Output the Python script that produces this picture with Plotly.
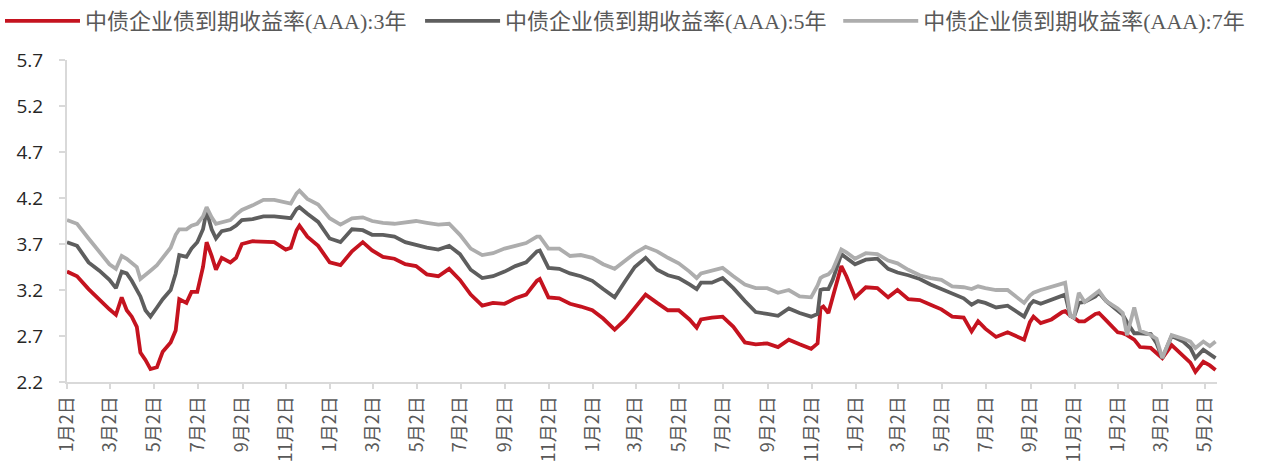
import plotly.graph_objects as go

dates = [
    "2020-01-02", "2020-01-16", "2020-02-01", "2020-02-16", "2020-03-01", "2020-03-10", "2020-03-18", "2020-03-25",
    "2020-04-01", "2020-04-08", "2020-04-13", "2020-04-20", "2020-04-27", "2020-05-06", "2020-05-14", "2020-05-25",
    "2020-06-01", "2020-06-06", "2020-06-16", "2020-06-23", "2020-07-01", "2020-07-09", "2020-07-14", "2020-07-21",
    "2020-07-27", "2020-08-04", "2020-08-16", "2020-08-24", "2020-09-01", "2020-09-16", "2020-10-01", "2020-10-16",
    "2020-11-01", "2020-11-08", "2020-11-16", "2020-11-20", "2020-12-01", "2020-12-16", "2021-01-01", "2021-01-16",
    "2021-02-01", "2021-02-16", "2021-03-01", "2021-03-16", "2021-04-01", "2021-04-16", "2021-05-01", "2021-05-16",
    "2021-06-01", "2021-06-16", "2021-07-01", "2021-07-16", "2021-08-01", "2021-08-16", "2021-09-01", "2021-09-16",
    "2021-10-01", "2021-10-16", "2021-10-20", "2021-11-01", "2021-11-16", "2021-12-01", "2021-12-16", "2022-01-01",
    "2022-01-16", "2022-02-01", "2022-02-16", "2022-03-01", "2022-03-16", "2022-04-01", "2022-04-16", "2022-05-01",
    "2022-05-16", "2022-05-26", "2022-06-01", "2022-06-16", "2022-07-01", "2022-07-16", "2022-08-01", "2022-08-16",
    "2022-09-01", "2022-09-16", "2022-10-01", "2022-10-16", "2022-11-01", "2022-11-10", "2022-11-14", "2022-11-18",
    "2022-11-25", "2022-12-01", "2022-12-13", "2022-12-20", "2023-01-01", "2023-01-16", "2023-02-01", "2023-02-16",
    "2023-03-01", "2023-03-16", "2023-04-01", "2023-04-16", "2023-05-01", "2023-05-16", "2023-06-01", "2023-06-12",
    "2023-06-21", "2023-07-01", "2023-07-16", "2023-08-01", "2023-08-16", "2023-08-24", "2023-09-01", "2023-09-06",
    "2023-09-16", "2023-10-01", "2023-10-16", "2023-10-20", "2023-10-27", "2023-11-01", "2023-11-08", "2023-11-16",
    "2023-12-01", "2023-12-06", "2023-12-16", "2024-01-01", "2024-01-08", "2024-01-14", "2024-01-24", "2024-02-01",
    "2024-02-16", "2024-02-24", "2024-03-03", "2024-03-16", "2024-04-01", "2024-04-11", "2024-04-18", "2024-04-29",
    "2024-05-08", "2024-05-16",
]

yield_3y = [
    3.40, 3.35, 3.21, 3.09, 2.99, 2.93, 3.12, 2.98,
    2.91, 2.80, 2.52, 2.44, 2.34, 2.36, 2.53, 2.63,
    2.76, 3.10, 3.06, 3.18, 3.18, 3.45, 3.72, 3.57,
    3.42, 3.55, 3.50, 3.55, 3.70, 3.73, 3.72, 3.72,
    3.64, 3.66, 3.85, 3.90, 3.78, 3.68, 3.50, 3.47,
    3.62, 3.72, 3.63, 3.56, 3.54, 3.48, 3.46, 3.37,
    3.35, 3.43, 3.31, 3.15, 3.03, 3.06, 3.05, 3.11,
    3.15, 3.30, 3.32, 3.12, 3.11, 3.05, 3.02, 2.98,
    2.89, 2.77, 2.88, 3.00, 3.15, 3.06, 2.98, 2.98,
    2.88, 2.79, 2.88, 2.90, 2.91, 2.80, 2.63, 2.61,
    2.62, 2.58, 2.66, 2.61, 2.56, 2.62, 3.00, 3.02,
    2.95, 3.12, 3.46, 3.35, 3.12, 3.23, 3.22, 3.12,
    3.20, 3.10, 3.09, 3.04, 2.99, 2.91, 2.90, 2.75,
    2.86, 2.78, 2.69, 2.74, 2.69, 2.66, 2.85, 2.91,
    2.84, 2.88, 2.96, 2.97, 2.92, 2.90, 2.86, 2.86,
    2.94, 2.95, 2.87, 2.74, 2.73, 2.71, 2.66, 2.58,
    2.57, 2.52, 2.46, 2.60, 2.48, 2.41, 2.31, 2.42,
    2.38, 2.33,
]

yield_5y = [
    3.72, 3.68, 3.50, 3.41, 3.31, 3.22, 3.40, 3.38,
    3.30, 3.21, 3.13, 2.98, 2.91, 3.01, 3.10, 3.20,
    3.38, 3.58, 3.56, 3.65, 3.72, 3.86, 4.06, 3.86,
    3.76, 3.84, 3.86, 3.90, 3.96, 3.97, 4.00, 4.00,
    3.98, 3.98, 4.08, 4.10, 4.03, 3.94, 3.76, 3.72,
    3.86, 3.85, 3.80, 3.80, 3.78, 3.72, 3.69, 3.66,
    3.64, 3.68, 3.59, 3.42, 3.33, 3.35, 3.40, 3.46,
    3.50, 3.62, 3.63, 3.44, 3.43, 3.38, 3.35, 3.30,
    3.21, 3.12, 3.30, 3.45, 3.55, 3.42, 3.36, 3.33,
    3.26, 3.21, 3.28, 3.28, 3.33, 3.22, 3.08, 2.96,
    2.94, 2.92, 3.00, 2.95, 2.91, 2.94, 3.20, 3.21,
    3.21, 3.31, 3.59, 3.55, 3.48, 3.53, 3.54, 3.43,
    3.39, 3.36, 3.32, 3.26, 3.21, 3.16, 3.11, 3.04,
    3.08, 3.06, 3.01, 3.03, 2.95, 2.91, 3.04, 3.08,
    3.05, 3.09, 3.14, 3.15, 2.92, 2.90, 3.06, 3.07,
    3.13, 3.17, 3.08, 2.97, 2.93, 2.85, 2.73, 2.73,
    2.72, 2.62, 2.46, 2.70, 2.64, 2.57, 2.46, 2.55,
    2.50, 2.46,
]

yield_7y = [
    3.96, 3.92, 3.76, 3.62, 3.48, 3.43, 3.57, 3.54,
    3.50, 3.45, 3.32, 3.37, 3.41, 3.47, 3.55, 3.66,
    3.80, 3.86, 3.86, 3.90, 3.92, 4.00, 4.10, 3.99,
    3.92, 3.94, 3.96, 4.02, 4.07, 4.12, 4.18, 4.18,
    4.15, 4.14, 4.25, 4.28, 4.19, 4.13, 3.98, 3.91,
    3.98, 3.99, 3.95, 3.93, 3.92, 3.93, 3.95, 3.93,
    3.91, 3.92, 3.80, 3.65, 3.58, 3.60, 3.65, 3.68,
    3.71, 3.78, 3.78, 3.65, 3.65, 3.57, 3.58, 3.55,
    3.48, 3.43, 3.52, 3.60, 3.67, 3.62, 3.55, 3.49,
    3.40, 3.33, 3.38, 3.41, 3.44, 3.35, 3.26, 3.22,
    3.22, 3.17, 3.20, 3.13, 3.12, 3.25, 3.33, 3.35,
    3.37, 3.42, 3.64, 3.61, 3.54, 3.60, 3.59, 3.52,
    3.49, 3.42, 3.36, 3.33, 3.31, 3.24, 3.23, 3.21,
    3.24, 3.22, 3.20, 3.20, 3.10, 3.06, 3.14, 3.17,
    3.20, 3.23, 3.27, 3.28, 2.92, 2.90, 3.17, 3.07,
    3.16, 3.19, 3.08, 3.00, 2.95, 2.71, 3.01, 2.76,
    2.71, 2.67, 2.46, 2.71, 2.67, 2.64, 2.57, 2.64,
    2.59, 2.64,
]

series_names = [
    "中债企业债到期收益率(AAA):3年",
    "中债企业债到期收益率(AAA):5年",
    "中债企业债到期收益率(AAA):7年",
]
series_colors = ["#C5131F", "#5E5E5E", "#ADADAD"]
legend_ids = ["legend", "legend2", "legend3"]
legend_x = [0.0, 0.3305, 0.6595]

tick_dates = [
    "2020-01-02", "2020-03-02", "2020-05-02", "2020-07-02", "2020-09-02", "2020-11-02",
    "2021-01-02", "2021-03-02", "2021-05-02", "2021-07-02", "2021-09-02", "2021-11-02",
    "2022-01-02", "2022-03-02", "2022-05-02", "2022-07-02", "2022-09-02", "2022-11-02",
    "2023-01-02", "2023-03-02", "2023-05-02", "2023-07-02", "2023-09-02", "2023-11-02",
    "2024-01-02", "2024-03-02", "2024-05-02",
]
tick_labels = [
    "1月2日", "3月2日", "5月2日", "7月2日", "9月2日", "11月2日",
    "1月2日", "3月2日", "5月2日", "7月2日", "9月2日", "11月2日",
    "1月2日", "3月2日", "5月2日", "7月2日", "9月2日", "11月2日",
    "1月2日", "3月2日", "5月2日", "7月2日", "9月2日", "11月2日",
    "1月2日", "3月2日", "5月2日",
]
y_ticks = [2.2, 2.7, 3.2, 3.7, 4.2, 4.7, 5.2, 5.7]

fig = go.Figure()
for name, vals, col, lg in zip(series_names, [yield_3y, yield_5y, yield_7y], series_colors, legend_ids):
    fig.add_trace(go.Scatter(
        x=dates, y=vals, name=name, mode="lines",
        line=dict(color=col, width=3.8),
        legend=lg,
    ))

legend_style = dict(
    orientation="h",
    xref="container", yref="container",
    y=1.0, xanchor="left", yanchor="top",
    font=dict(family="Liberation Serif, Noto Sans CJK SC", size=22, color="#595959"),
    itemwidth=75,
    bgcolor="rgba(0,0,0,0)",
)

fig.update_layout(
    width=1271, height=474,
    margin=dict(l=67, r=54, t=60, b=92, autoexpand=False),
    paper_bgcolor="white", plot_bgcolor="white",
    showlegend=True,
    legend=dict(x=legend_x[0], **legend_style),
    legend2=dict(x=legend_x[1], **legend_style),
    legend3=dict(x=legend_x[2], **legend_style),
    xaxis=dict(
        type="date",
        range=["2020-01-02", "2024-05-18"],
        tickmode="array", tickvals=tick_dates, ticktext=tick_labels,
        tickangle=-90,
        tickfont=dict(family="Noto Sans CJK SC", size=18, color="#595959"),
        showline=True, linecolor="#D9D9D9", linewidth=2,
        ticks="outside", ticklen=5, tickcolor="#D9D9D9", tickwidth=1.5,
        showgrid=False, zeroline=False,
    ),
    yaxis=dict(
        range=[2.2, 5.7],
        tickmode="array", tickvals=y_ticks, ticktext=[f"{v:.1f}" for v in y_ticks],
        tickfont=dict(family="Open Sans", size=19, color="#262626"),
        showline=True, linecolor="#D9D9D9", linewidth=2,
        ticks="outside", ticklen=6, tickcolor="#D9D9D9", tickwidth=1.5,
        ticklabelstandoff=12,
        showgrid=False, zeroline=False,
    ),
)

fig.write_html("out.html")
